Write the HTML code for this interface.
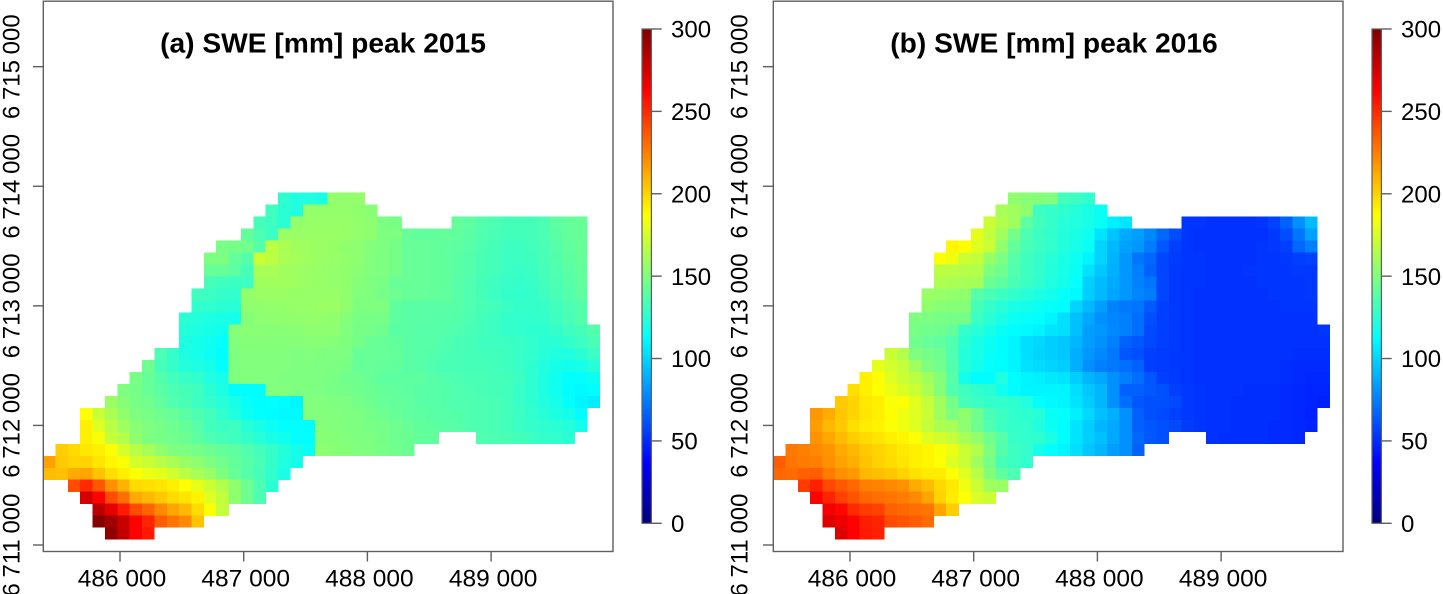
<!DOCTYPE html>
<html lang="en">
<head>
<meta charset="utf-8">
<title>SWE peak 2015 and 2016</title>
<style>
html,body{margin:0;padding:0;background:#fff;}
svg{display:block;font-family:"Liberation Sans",sans-serif;}
text{fill:#000;}
</style>
</head>
<body>
<svg id="chart" xmlns="http://www.w3.org/2000/svg" width="1443" height="594" viewBox="0 0 1443 594"></svg>
<script>
const xTicks = [486000, 487000, 488000, 489000];
const yTicks = [6711000, 6712000, 6713000, 6714000, 6715000];
const colorbarTicks = [0, 50, 100, 150, 200, 250, 300];
const panelTitles = ["(a) SWE [mm] peak 2015", "(b) SWE [mm] peak 2016"];
const rowStartCols = [19,18,17,16,14,13,13,13,12,12,11,11,11,9,8,7,6,5,3,3,3,1,0,0,2,3,4,4,5];
const swe2015 = [
[126,122,122,120,156,156,156],
[131,125,122,156,156,156,156,155,153],
[133,130,125,156,157,157,157,157,156,154,149,148,null,null,null,null,142,140,137,135,133,133,133,135,140,142,143],
[142,135,130,158,158,158,158,158,157,156,155,150,149,143,141,141,142,141,139,136,134,132,132,133,135,139,142,143],
[148,147,146,137,168,163,160,159,158,157,155,154,151,149,147,143,143,142,141,140,138,135,133,131,131,132,134,138,141,143],
[150,150,142,137,172,168,163,161,159,158,157,156,154,151,149,147,143,143,142,141,139,137,134,132,130,130,131,134,137,140,142],
[143,143,140,133,162,162,160,159,158,157,156,155,153,151,149,147,143,143,142,141,139,137,134,132,130,129,130,133,136,139,141],
[133,131,130,130,160,160,160,159,158,157,156,155,152,150,148,143,143,143,142,141,138,136,133,131,129,128,129,132,135,138,141],
[131,130,128,127,156,158,158,158,157,157,157,157,155,151,150,147,145,143,143,142,141,138,136,133,130,128,127,128,131,134,137,140],
[127,127,125,124,154,155,156,156,157,157,158,158,155,150,150,150,140,139,139,139,139,138,136,134,132,130,128,128,129,132,135,137],
[125,123,121,120,119,152,154,154,155,155,156,156,155,152,148,148,147,140,139,139,138,138,137,135,132,130,128,127,127,128,131,134,137],
[123,121,119,117,152,153,153,153,153,153,154,154,154,151,147,147,145,139,139,138,138,137,136,134,132,130,128,127,126,126,128,131,133,137],
[121,119,117,114,151,152,152,152,152,152,153,153,152,150,147,144,143,141,139,138,138,136,134,133,131,131,130,129,127,125,125,127,130,134],
[135,128,121,119,116,112,150,151,151,151,151,150,151,150,150,149,143,143,143,142,139,138,137,135,134,133,132,132,131,129,127,124,122,122,125,130],
[145,133,128,123,121,119,113,150,151,151,151,151,150,150,150,149,148,143,143,142,141,139,138,136,134,134,133,133,132,131,129,126,122,119,118,119,124],
[148,143,137,132,129,127,122,119,150,151,151,151,150,150,150,149,148,146,145,143,140,140,140,140,138,136,135,134,134,133,132,130,126,121,117,113,113,116],
[150,147,143,139,135,133,131,125,121,112,112,112,151,151,150,150,149,148,147,146,144,142,141,140,139,138,137,136,135,134,133,132,129,126,121,117,112,111,112],
[158,152,148,146,141,136,134,130,127,124,120,114,112,113,112,110,151,151,150,149,147,145,143,142,141,139,138,137,136,136,135,134,132,129,126,122,119,113,110,107],
[187,172,163,155,150,148,145,143,139,135,132,127,122,116,113,112,111,111,151,151,151,150,149,147,145,143,141,140,139,138,137,136,135,134,132,130,127,124,121,118,112],
[192,178,167,160,153,150,148,145,142,138,132,130,131,124,120,116,113,113,112,152,151,150,150,148,147,145,143,141,140,139,138,136,135,134,132,130,128,126,125,123,118],
[192,185,170,165,155,150,148,146,144,140,135,133,131,128,124,120,117,113,113,153,152,151,150,149,147,145,144,142,141,null,null,null,136,135,134,132,130,128,127,125],
[202,198,194,192,187,175,167,162,155,150,149,147,145,142,140,136,132,128,123,118,115,154,153,152,151,150,148,146,144],
[215,203,200,200,195,190,186,175,172,167,163,158,154,150,146,142,138,134,128,122,118],
[207,206,212,214,205,197,192,187,182,180,174,167,162,157,150,143,138,133,127,120],
[240,250,237,220,210,198,197,195,192,187,180,172,165,155,145,135,125],
[275,262,240,230,212,208,203,198,195,191,178,170,155,145,135],
[282,270,255,240,233,222,214,208,198,187,170],
[298,290,278,262,252,235,228,222,205],
[295,280,262,255]
];
const swe2016 = [
[155,153,152,151,132,130,127],
[162,160,155,130,128,126,123,120,115],
[172,165,160,140,132,128,124,122,119,115,108,105,null,null,null,null,53,53,52,52,52,52,53,57,66,80,93],
[180,170,160,147,135,130,127,123,120,117,105,95,88,84,78,68,60,53,52,52,52,52,52,52,54,60,72,85],
[190,188,178,172,155,142,134,130,127,123,119,115,100,92,85,82,74,63,56,53,52,52,52,52,52,53,54,56,68,75],
[187,183,172,170,157,149,138,131,128,124,120,116,110,100,90,82,72,68,58,55,53,53,52,52,52,52,53,53,54,56,57],
[168,167,166,165,150,145,136,131,127,123,119,115,104,96,89,82,75,66,58,54,53,53,52,52,52,53,53,53,53,54,54],
[164,163,162,161,144,140,134,130,126,122,118,114,99,93,88,82,76,72,58,54,53,53,52,52,52,52,53,53,53,53,54],
[158,157,156,155,138,134,130,127,124,121,118,114,111,98,92,86,82,77,74,58,54,53,52,52,52,52,52,52,53,53,53,54],
[155,153,152,152,133,128,124,120,118,116,114,112,100,92,84,76,73,72,64,56,54,53,52,52,52,52,52,52,52,53,53,53],
[150,149,148,147,147,130,125,120,116,114,113,110,103,94,87,80,77,75,70,61,56,54,53,52,52,52,52,52,52,52,52,52,52],
[148,146,145,142,128,124,120,115,112,111,109,105,103,94,84,82,78,75,70,59,56,54,53,52,52,52,52,52,52,52,52,52,52,53],
[146,143,141,136,125,120,116,112,110,103,101,98,96,91,84,80,75,66,63,59,56,54,53,52,52,52,52,52,52,52,52,52,52,52],
[172,165,150,147,145,136,123,119,115,112,110,103,100,98,96,89,82,78,73,63,61,56,55,54,53,52,52,52,52,52,52,52,52,51,51,51],
[180,175,170,160,150,146,137,123,118,114,112,110,104,102,100,98,89,80,75,73,70,66,56,55,54,53,52,52,52,52,52,52,52,51,50,50,50],
[192,188,178,172,168,160,152,138,118,112,112,122,112,110,108,106,105,98,91,87,80,75,70,63,56,54,53,52,52,52,52,52,52,52,51,50,49,49],
[197,192,187,182,177,172,163,152,137,131,127,125,117,112,110,110,110,110,103,96,91,80,66,66,63,61,56,54,53,52,52,52,51,51,51,50,49,48,48],
[203,200,194,192,186,187,179,170,160,147,133,130,128,127,126,122,113,111,110,105,98,91,80,70,63,61,61,59,54,53,52,52,51,51,51,51,50,49,48,47],
[218,212,204,200,195,192,188,183,178,172,160,150,155,146,134,130,127,126,124,115,114,108,101,94,89,80,66,61,59,56,54,53,52,52,51,51,51,51,50,49,47],
[216,208,203,197,193,191,186,183,178,170,163,162,154,145,136,130,128,127,122,116,112,105,98,91,87,80,66,63,61,59,55,53,52,52,51,51,51,50,50,49,48],
[219,213,207,202,198,195,192,190,187,178,174,170,162,156,146,138,129,127,126,120,112,105,98,94,87,80,68,63,61,null,null,null,52,51,51,51,51,50,50,49],
[227,225,222,219,212,208,203,200,197,194,192,190,186,182,172,165,150,137,131,128,118,113,110,103,96,91,84,80,66],
[235,228,226,225,220,215,211,205,201,198,195,192,190,187,178,172,160,148,133,130,127],
[232,231,234,235,226,220,217,208,206,204,200,196,193,193,187,178,167,152,140,135],
[245,253,241,236,232,225,224,222,220,212,207,199,194,183,172,160,158],
[262,252,243,238,232,230,228,226,222,214,200,193,187,176,172],
[266,261,250,245,243,234,232,230,228,214,202],
[272,268,262,254,252,240,238,235,231],
[272,263,255,253]
];

const SVG_NS = "http://www.w3.org/2000/svg";
const chart = document.getElementById("chart");
const INK = "#5f5f5f";

function jet(v) {
  const stops = [[0,0,0,127],[37.5,0,0,255],[75,0,127,255],[112.5,0,255,255],[150,127,255,127],[187.5,255,255,0],[225,255,127,0],[262.5,255,0,0],[300,127,0,0]];
  const c = Math.max(0, Math.min(300, v));
  for (let i = 1; i < stops.length; i++) {
    if (c <= stops[i][0]) {
      const a = stops[i - 1], b = stops[i];
      const t = (c - a[0]) / (b[0] - a[0]);
      return "rgb(" + [1, 2, 3].map(k => Math.round(a[k] + (b[k] - a[k]) * t)).join(",") + ")";
    }
  }
  return "rgb(127,0,0)";
}
function make(tag, attrs, parent) {
  const el = document.createElementNS(SVG_NS, tag);
  for (const k in attrs) el.setAttribute(k, attrs[k]);
  parent.appendChild(el);
  return el;
}
function spaced(n) {
  return String(n).replace(/\B(?=(\d{3})+(?!\d))/g, " ");
}

function drawPanel(values, title, dx, key, yLabelX, titleX) {
  const xScale = e => 120 + dx + (e - 486000) * 0.1237;
  const yScale = n => 545 - (n - 6711000) * 0.11958;
  const colE = c => 485378 + c * 100;
  const rowN = r => 6713946 - r * 100;
  const cScale = v => 523.3 - v * (494.3 / 300);

  const group = make("g", {}, chart);
  
  

  const cells = make("g", {"shape-rendering": "crispEdges"}, group);
  
  
  values.forEach((row, r) => {
    row.forEach((v, i) => {
      if (v === null) return;
      const c = rowStartCols[r] + i;
      const x0 = xScale(colE(c)), x1 = xScale(colE(c + 1));
      const y0 = yScale(rowN(r)), y1 = yScale(rowN(r + 1));
      const cell = make("rect", {x: x0.toFixed(2), y: y0.toFixed(2), width: (x1 - x0 + 0.2).toFixed(2), height: (y1 - y0 + 0.2).toFixed(2), fill: jet(v)}, cells);
      
      
    });
  });

  const frame = make("rect", {x: 43.3 + dx, y: 1.2, width: 569.7, height: 550.3, fill: "none", stroke: INK, "stroke-width": 1.4}, group);
  
  

  const heading = make("text", {x: titleX, y: 52.3, "text-anchor": "middle", "font-size": 28.2, "font-weight": "bold"}, group);
  heading.textContent = title;
  
  

  xTicks.forEach(t => {
    const tick = make("line", {x1: xScale(t), x2: xScale(t), y1: 551.5, y2: 561.5, stroke: INK, "stroke-width": 1.4}, group);
    
    
    const label = make("text", {x: xScale(t) + 2, y: 586.5, "text-anchor": "middle", "font-size": 24.5}, group);
    label.textContent = spaced(t);
    
    
  });

  yTicks.forEach(t => {
    const tick = make("line", {x1: 33 + dx, x2: 43.3 + dx, y1: yScale(t), y2: yScale(t), stroke: INK, "stroke-width": 1.4}, group);
    
    
    const ly = yScale(t);
    const label = make("text", {x: yLabelX, y: ly, "text-anchor": "middle", "font-size": 24, "word-spacing": "-1px", transform: "rotate(-90 " + yLabelX + " " + ly + ")"}, group);
    label.textContent = spaced(t);
    
    
  });

  const bar = make("g", {}, group);
  
  
  const ramp = make("g", {"shape-rendering": "crispEdges"}, bar);
  for (let v = 0; v < 300; v += 1.5) {
    const seg = make("rect", {x: 642 + dx, y: (cScale(v + 1.5)).toFixed(2), width: 9.4, height: (cScale(v) - cScale(v + 1.5) + 0.3).toFixed(2), fill: jet(v + 0.75)}, ramp);
    
    
  }
  const barBox = make("rect", {x: 642 + dx, y: cScale(300), width: 9.4, height: cScale(0) - cScale(300), fill: "none", stroke: INK, "stroke-width": 1.2}, bar);
  
  
  colorbarTicks.forEach(t => {
    const tick = make("line", {x1: 651.4 + dx, x2: 661.7 + dx, y1: cScale(t), y2: cScale(t), stroke: INK, "stroke-width": 1.4}, bar);
    
    
    const label = make("text", {x: 671 + dx, y: cScale(t) + 8.7, "font-size": 24}, bar);
    label.textContent = String(t);
    
    
  });
}

drawPanel(swe2015, panelTitles[0], 0, "2015", 19.5, 323);
drawPanel(swe2016, panelTitles[1], 730, "2016", 747.5, 1054);
</script>
</body>
</html>
